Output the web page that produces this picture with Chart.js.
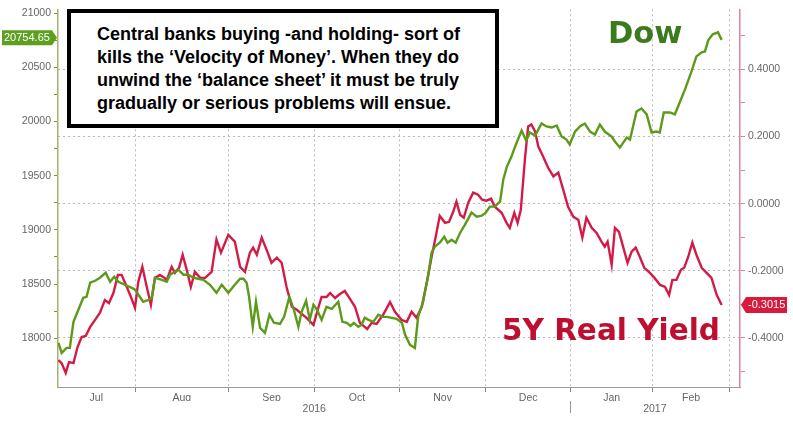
<!DOCTYPE html>
<html>
<head>
<meta charset="utf-8">
<script src="https://cdn.jsdelivr.net/npm/chart.js@4.4.1/dist/chart.umd.min.js"></script>
<style>
  body { margin: 0; background: #fff; }
  #wrap { position: relative; width: 793px; height: 422px; }
  #note {
    position: absolute; left: 67px; top: 9px; width: 432px; height: 119px;
    box-sizing: border-box; border: 4px solid #000; background: #fff;
    padding: 10px 0 0 26px;
    font: bold 18px "Liberation Sans", Arial, sans-serif; line-height: 23px;
    color: #000; white-space: nowrap;
  }
  .big { position: absolute; font-family: "DejaVu Sans", sans-serif; font-weight: bold; line-height: 1; white-space: nowrap; }
  #dow { left: 608px; top: 18px; font-size: 30.5px; color: #3c7a1e; }
  #ry { left: 502px; top: 316px; font-size: 29.5px; color: #be0f30; }
</style>
</head>
<body>
<div id="wrap">
  <canvas id="my-chart"></canvas>
  <div id="note">Central banks buying -and holding- sort of<br>kills the ‘Velocity of Money’. When they do<br>unwind the ‘balance sheet’ it must be truly<br>gradually or serious problems will ensue.</div>
  <div id="dow" class="big">Dow</div>
  <div id="ry" class="big">5Y Real Yield</div>
</div>
<script>
// x values are trading days counted from 1 Jul 2016
const monthStarts = [20, 43, 64, 85, 106, 127, 147, 166];
const monthMids = [10.5, 31.5, 53.5, 74.5, 95.5, 116.5, 137, 156.5];
const monthNames = ['Jul', 'Aug', 'Sep', 'Oct', 'Nov', 'Dec', 'Jan', 'Feb'];
const yearTicks = [64, 127, 147.6];
const yearLabels = ['2016', '', '2017'];
const dowTicks = [18000, 18500, 19000, 19500, 20000, 20500, 21000];
const yieldTicks = [-0.4, -0.2, 0, 0.2, 0.4];

const dowDays = [1.2,2.0,3.2,4.0,4.9,6.1,7.3,8.1,9.0,10.2,
  11.4,12.8,13.9,14.9,15.9,17.5,19.2,20.0,22.0,23.3,
  24.1,24.9,26.6,27.8,28.6,29.8,30.6,31.9,33.1,34.3,
  35.5,36.8,38.4,40.0,41.3,42.9,44.5,45.8,46.6,47.4,
  48.0,48.9,49.7,50.7,51.9,53.0,54.1,55.6,56.6,57.9,
  59.0,60.1,60.9,62.0,62.9,63.8,64.7,65.8,67.0,68.3,
  69.9,70.9,72.0,72.9,73.7,74.8,75.6,76.4,77.3,78.5,
  79.7,80.8,81.8,83.0,84.2,85.5,86.3,87.5,88.7,89.5,
  90.7,92.0,92.8,93.6,94.8,95.9,96.7,97.7,98.7,99.8,
  101.0,102.6,103.9,105.1,106.1,107.1,108.3,109.6,110.4,111.2,
  112.4,113.4,114.9,116.0,116.9,118.2,119.8,121.0,122.3,123.5,
  124.7,125.9,126.7,128.0,129.2,130.4,131.7,132.9,134.1,135.3,
  137.0,137.8,139.0,140.7,141.5,143.1,144.3,145.6,146.8,148.0,
  148.8,149.8,151.3,152.5,153.3,155.0,156.6,157.8,159.1,159.9,
  160.7,161.8,163.1,164.0];
const dowValues = [17957,17864,17910,17910,18151,18262,18373,18382,18512,18530,
  18558,18604,18521,18567,18521,18493,18465,18447,18336,18354,
  18373,18558,18539,18521,18586,18613,18632,18586,18586,18558,
  18549,18539,18493,18419,18493,18419,18493,18549,18549,18512,
  18382,18105,18336,18095,18049,18216,18142,18132,18197,18382,
  18262,18105,18243,18345,18169,18308,18262,18169,18290,18271,
  18336,18151,18142,18114,18142,18105,18123,18188,18169,18151,
  18216,18197,18197,18188,18179,18142,18031,17938,17910,18197,
  18336,18586,18789,18845,18882,18937,18882,18909,18882,18974,
  19048,19159,19122,19131,19159,19215,19215,19261,19464,19575,
  19677,19779,19918,19825,19899,19871,19982,19955,19945,19964,
  19862,19834,19788,19908,19955,19982,19908,19881,19973,19908,
  19862,19816,19760,19853,19834,20093,20121,20066,19899,19908,
  19899,20084,20084,20066,20140,20297,20463,20602,20639,20648,
  20750,20806,20824,20754.65];

const yieldDays = [1.2,2.0,3.0,3.8,4.9,5.9,6.9,7.9,9.0,10.2,
  11.4,12.6,13.6,14.7,15.8,16.7,18.0,19.0,20.0,20.8,
  21.8,22.9,23.9,24.9,26.1,26.9,27.8,29.0,29.8,30.8,
  31.7,32.7,33.7,34.7,36.0,37.2,38.8,40.0,41.1,42.9,
  44.5,45.8,47.0,48.2,49.0,49.9,51.1,52.3,53.5,54.8,
  56.0,57.2,58.5,59.7,62.1,63.8,65.0,65.8,67.0,67.9,
  69.1,70.3,71.5,72.8,74.0,75.2,77.0,78.1,79.3,80.9,
  82.6,83.8,85.4,86.7,87.9,89.1,90.4,91.6,92.8,93.8,
  94.8,96.1,97.1,98.1,98.9,99.8,100.7,101.8,103.0,104.2,
  105.2,106.3,107.4,108.3,110.0,111.2,112.0,113.1,113.9,114.7,
  115.7,116.5,117.3,118.2,119.0,120.2,121.4,122.7,123.9,125.1,
  126.3,127.6,128.8,129.8,130.8,132.1,133.3,134.5,135.3,136.0,
  137.0,137.8,138.8,139.8,140.9,141.9,142.9,143.9,145.0,146.4,
  147.5,148.9,150.1,151.1,151.9,152.9,154.0,154.8,155.8,156.8,
  157.8,159.1,160.3,161.5,162.8,164.0];
const yieldValues = [-0.466,-0.475,-0.504,-0.472,-0.475,-0.427,-0.397,-0.394,-0.367,-0.346,
  -0.325,-0.287,-0.296,-0.266,-0.212,-0.212,-0.248,-0.278,-0.310,-0.233,
  -0.188,-0.248,-0.301,-0.221,-0.212,-0.218,-0.227,-0.188,-0.206,-0.191,
  -0.152,-0.197,-0.248,-0.203,-0.221,-0.221,-0.203,-0.107,-0.146,-0.093,
  -0.113,-0.188,-0.203,-0.146,-0.131,-0.152,-0.101,-0.137,-0.176,-0.161,
  -0.176,-0.248,-0.307,-0.316,-0.340,-0.361,-0.310,-0.278,-0.278,-0.266,
  -0.281,-0.269,-0.260,-0.284,-0.307,-0.355,-0.373,-0.355,-0.358,-0.331,
  -0.293,-0.322,-0.346,-0.352,-0.322,-0.340,-0.307,-0.236,-0.158,-0.099,
  -0.036,-0.057,-0.054,-0.024,0.006,-0.033,-0.042,0.003,0.033,0.027,
  0.012,0.009,0.015,-0.009,-0.027,-0.057,-0.072,-0.027,-0.057,-0.018,
  0.131,0.230,0.236,0.215,0.170,0.140,0.107,0.081,0.093,0.042,
  -0.009,-0.039,-0.048,-0.101,-0.042,-0.072,-0.087,-0.113,-0.128,-0.113,
  -0.182,-0.072,-0.084,-0.128,-0.176,-0.143,-0.131,-0.158,-0.191,-0.206,
  -0.221,-0.242,-0.248,-0.272,-0.227,-0.227,-0.197,-0.191,-0.158,-0.116,
  -0.152,-0.191,-0.206,-0.221,-0.272,-0.3015];

const tickFont = { family: 'Liberation Sans', size: 10.5 };
const isMonthStart = c => c.tick && monthStarts.indexOf(c.tick.value) >= 0;
const isMajor = (list, c) => c.tick && list.indexOf(c.tick.value) >= 0;

// major ticks plus a minor tick half way between each pair (and one step outside for the yield axis)
function withMinors(list, extra) {
  const out = list.slice();
  const step = list[1] - list[0];
  for (let i = 0; i < list.length - 1; i++) out.push((list[i] + list[i + 1]) / 2);
  if (extra) { out.push(list[0] - step / 2); out.push(list[list.length - 1] + step / 2); }
  return out.sort((a, b) => a - b).map(v => ({ value: v }));
}

// value boxes at the end of each line
const tagPlugin = {
  id: 'tags',
  afterDraw(chart) {
    const ctx = chart.ctx;
    ctx.save();
    ctx.font = '11px "Liberation Sans"';
    ctx.textBaseline = 'middle';

    const gy = chart.scales.y.getPixelForValue(dowValues[dowValues.length - 1]) - 2;
    ctx.fillStyle = '#5e9f1f';
    ctx.beginPath();
    ctx.moveTo(2, gy - 7.5); ctx.lineTo(52, gy - 7.5); ctx.lineTo(57, gy);
    ctx.lineTo(52, gy + 7.5); ctx.lineTo(2, gy + 7.5); ctx.closePath();
    ctx.fill();
    ctx.fillStyle = '#fff';
    ctx.textAlign = 'left';
    ctx.fillText(dowValues[dowValues.length - 1].toFixed(2), 4, gy + 0.5);

    const ry = chart.scales.y1.getPixelForValue(yieldValues[yieldValues.length - 1]);
    ctx.fillStyle = '#d81b3c';
    ctx.beginPath();
    ctx.moveTo(741, ry); ctx.lineTo(746, ry - 8); ctx.lineTo(787, ry - 8);
    ctx.lineTo(787, ry + 8); ctx.lineTo(746, ry + 8); ctx.closePath();
    ctx.fill();
    ctx.fillStyle = '#fff';
    ctx.fillText(yieldValues[yieldValues.length - 1].toFixed(4), 748, ry + 0.5);
    ctx.restore();
  }
};

const data = {
  datasets: [{
    label: 'Dow',
    data: dowDays.map((d, i) => ({ x: d, y: dowValues[i] })),
    borderColor: '#5b9a1a',
    borderWidth: 2.4,
    pointRadius: 0,
    yAxisID: 'y'
  }, {
    label: '5Y Real Yield',
    data: yieldDays.map((d, i) => ({ x: d, y: yieldValues[i] })),
    borderColor: '#d21c48',
    borderWidth: 2.4,
    pointRadius: 0,
    yAxisID: 'y1'
  }]
};

const config = {
  type: 'line',
  data,
  options: {
    responsive: false,
    animation: false,
    layout: { padding: { top: 8, left: 0, right: 0, bottom: 0 } },
    plugins: { legend: { display: false }, tooltip: { enabled: false } },
    scales: {
      x: {
        type: 'linear', position: 'bottom', weight: 0,
        min: 1.1, max: 168.5,
        afterBuildTicks: s => {
          s.ticks = monthStarts.concat(monthMids).sort((a, b) => a - b).map(v => ({ value: v }));
        },
        ticks: {
          autoSkip: false, maxRotation: 0, padding: 0, color: '#666', font: tickFont,
          callback: v => { const i = monthMids.indexOf(v); return i < 0 ? '' : monthNames[i]; }
        },
        grid: {
          color: c => isMonthStart(c) ? '#b8b8b8' : 'transparent',
          tickColor: c => isMonthStart(c) ? '#888' : 'transparent',
          tickLength: 5
        },
        border: { color: '#9a9a9a', dash: [2, 3] },
        afterFit: s => { s.height = 14; }
      },
      xy: {
        type: 'linear', position: 'bottom', weight: 1,
        min: 1.1, max: 168.5,
        afterBuildTicks: s => { s.ticks = yearTicks.map(v => ({ value: v })); },
        ticks: {
          autoSkip: false, maxRotation: 0, padding: -10, color: '#666', font: tickFont,
          callback: (v, i) => yearLabels[i]
        },
        grid: {
          drawOnChartArea: false, tickLength: 12,
          tickColor: c => (c.tick && yearLabels[c.index] === '') ? '#999' : 'transparent'
        },
        border: { display: false },
        afterFit: s => { s.height = 21; }
      },
      y: {
        type: 'linear', position: 'left',
        min: 17549, max: 21037,
        afterBuildTicks: s => { s.ticks = withMinors(dowTicks, false); },
        ticks: {
          autoSkip: false, padding: 3, color: '#666', font: tickFont,
          callback: v => dowTicks.indexOf(v) >= 0 ? String(v) : ''
        },
        grid: { drawOnChartArea: false, tickColor: '#6a9a2a', tickLength: 4 },
        border: { color: '#a4b46a', width: 1.5 },
        afterFit: s => { s.width = 58; }
      },
      y1: {
        type: 'linear', position: 'right',
        min: -0.546, max: 0.579,
        afterBuildTicks: s => { s.ticks = withMinors(yieldTicks, true); },
        ticks: {
          autoSkip: false, padding: 3, color: '#666', font: tickFont,
          callback: v => yieldTicks.indexOf(v) >= 0 ? v.toFixed(4) : ''
        },
        grid: {
          color: c => isMajor(yieldTicks, c) ? '#b8b8b8' : 'transparent',
          tickColor: '#d4869a', tickLength: 5
        },
        border: { color: '#d4869a', width: 1.5, dash: [2, 3] },
        afterFit: s => { s.width = 53; }
      }
    }
  },
  plugins: [tagPlugin]
};

const canvas = document.getElementById('my-chart');
canvas.width = 793;
canvas.height = 422;
const myChart = new Chart(canvas.getContext('2d'), config);
</script>
</body>
</html>
